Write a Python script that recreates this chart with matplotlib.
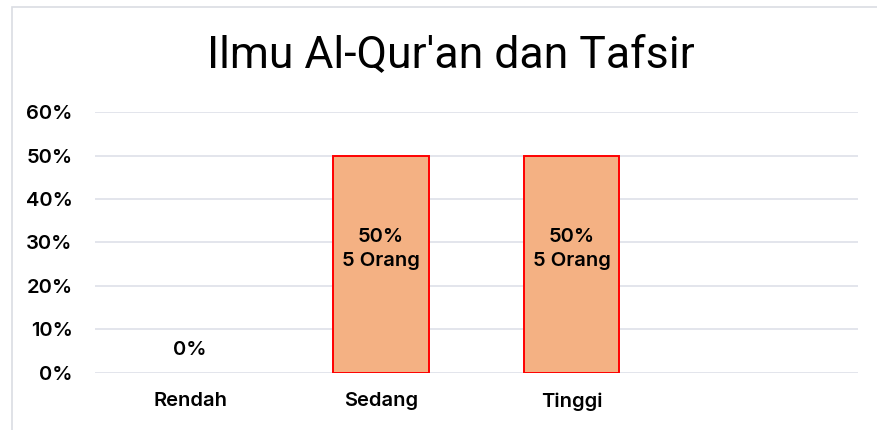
import matplotlib.pyplot as plt
from matplotlib.patches import Rectangle

# data
categories = ['Rendah', 'Sedang', 'Tinggi', '']
percent = [0.0, 0.50, 0.50, None]
people = [0, 5, 5, None]
y_ticks = [0, 0.1, 0.2, 0.3, 0.4, 0.5, 0.6]

plt.rcParams['font.family'] = ['Inter', 'DejaVu Sans']
FS = 14.5
FW = 'semibold'

fig = plt.figure(figsize=(8.78, 4.30), dpi=100)
ax = fig.add_axes([0.108, 0.1326, 0.869, 0.6069])

# light frame round the chart
fig.patches.append(Rectangle((0.0137, -0.2), 1.2, 0.9837 + 0.2, transform=fig.transFigure,
                             fill=False, edgecolor='#DADDE3', linewidth=1.2))

xs = list(range(len(categories)))
for x, v in zip(xs, percent):
    if v:
        ax.bar(x, v, width=0.5, color='#F4B183', edgecolor='#FF0000', linewidth=1.4, zorder=3)

for x, v, n in zip(xs, percent, people):
    if v is None:
        continue
    if v > 0:
        ax.text(x, 0.285, '%d%%\n%d Orang' % (round(v * 100), n), ha='center', va='center',
                fontsize=FS, fontweight=FW, linespacing=1.45, zorder=4)
    else:
        ax.text(x, 0.053, '%d%%' % round(v * 100), ha='center', va='center',
                fontsize=FS, fontweight=FW, zorder=4)

ax.set_xlim(-0.5, 3.5)
ax.set_ylim(0, 0.6)
ax.set_yticks(y_ticks)
ax.set_yticklabels(['%d%%' % round(t * 100) for t in y_ticks])
ax.set_xticks(xs)
ax.set_xticklabels(categories)
ax.tick_params(axis='both', length=0, labelsize=FS)
ax.tick_params(axis='y', pad=16)
ax.tick_params(axis='x', pad=14)
for lab in ax.get_xticklabels() + ax.get_yticklabels():
    lab.set_fontweight(FW)

ax.grid(axis='y', color='#E0E3EA', linewidth=1.3, zorder=0)
for s in ax.spines.values():
    s.set_visible(False)

fig.text(0.513, 0.872, "Ilmu Al-Qur'an dan Tafsir", ha='center', va='center',
         fontsize=32, family=['Roboto', 'DejaVu Sans'])

fig.savefig('out.png', dpi=100)
